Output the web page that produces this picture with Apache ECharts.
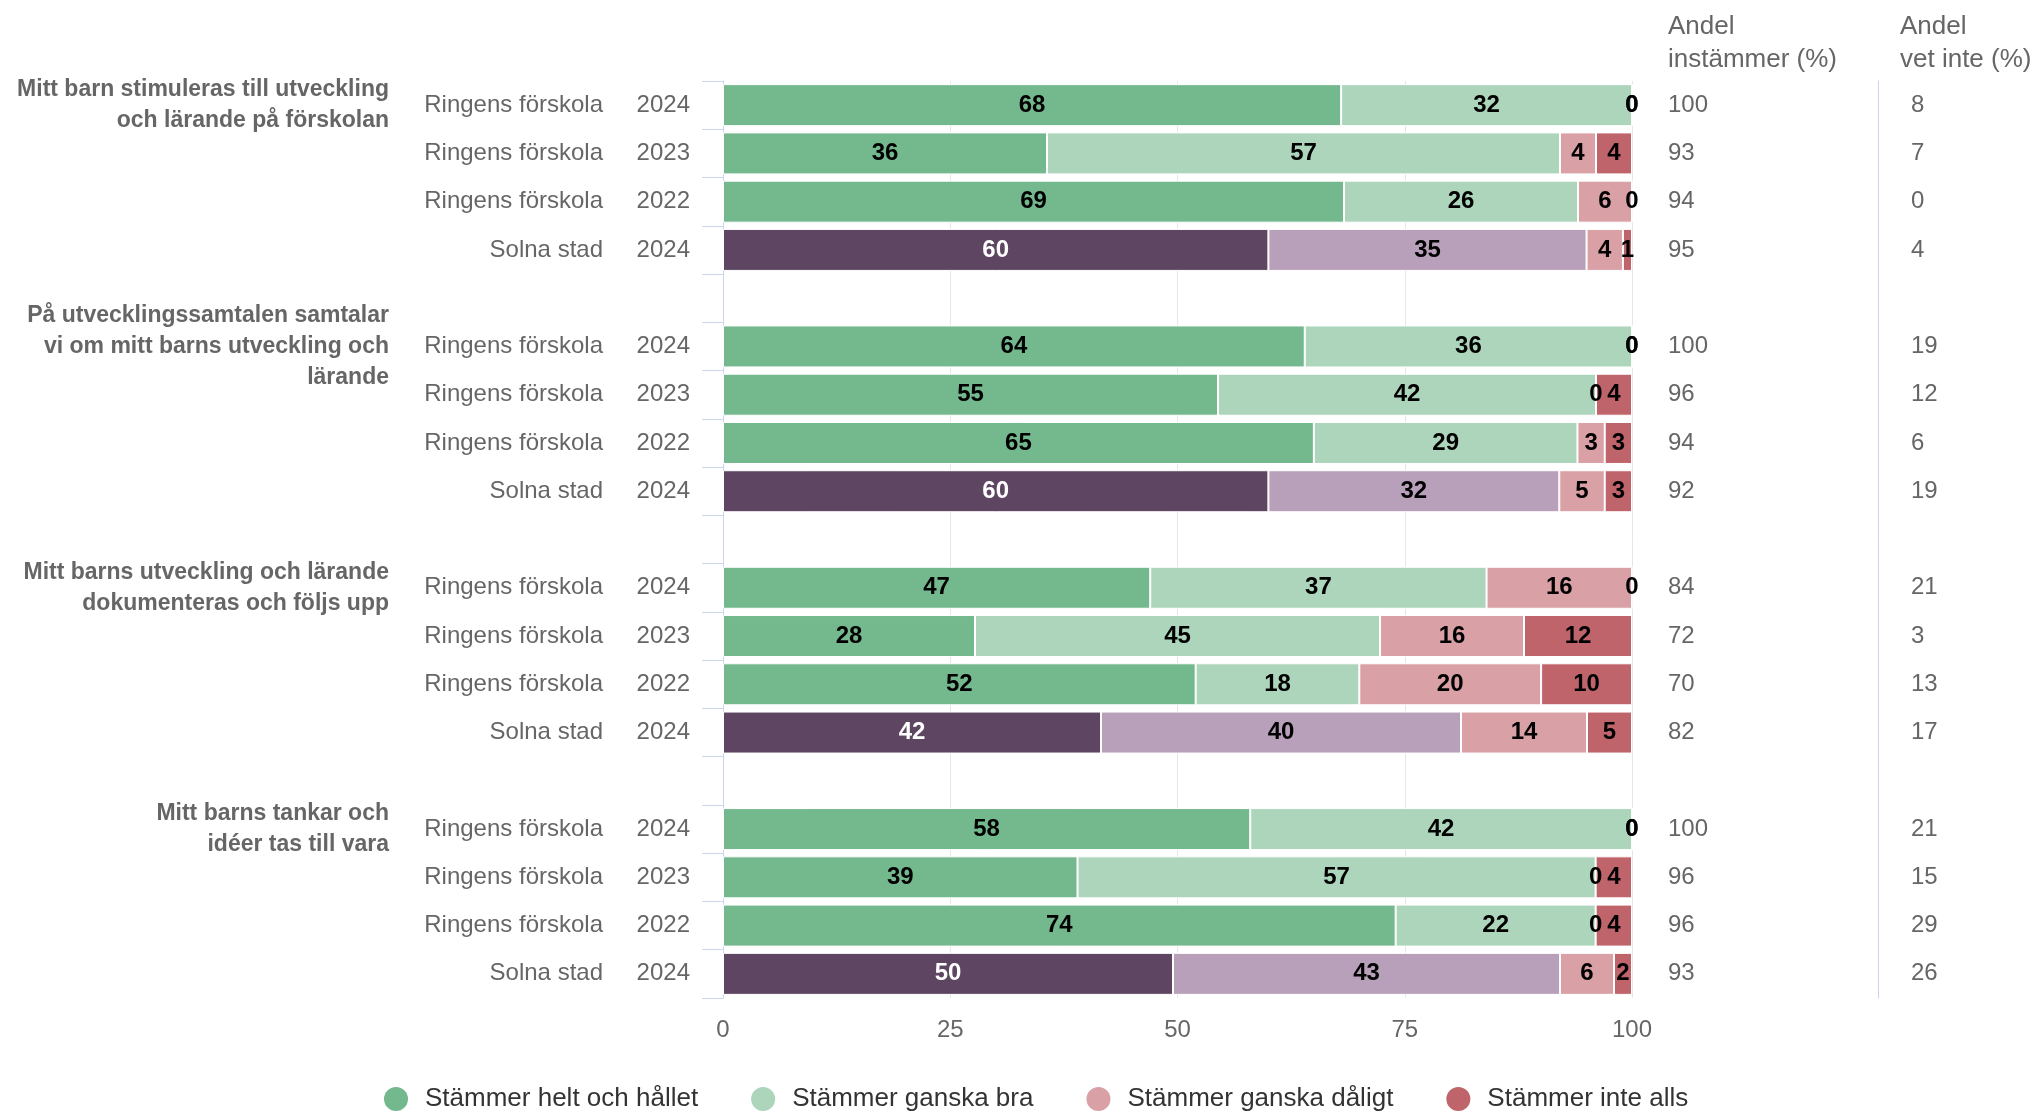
<!DOCTYPE html>
<html><head><meta charset="utf-8">
<script src="https://cdn.jsdelivr.net/npm/echarts@6/dist/echarts.min.js"></script>
<style>html,body{margin:0;padding:0;background:#fff}#c{width:2038px;height:1114px}</style>
</head><body><div id="c"></div>
<script>
const questions = [
  'Mitt barn stimuleras till utveckling\noch lärande på förskolan',
  'På utvecklingssamtalen samtalar\nvi om mitt barns utveckling och\nlärande',
  'Mitt barns utveckling och lärande\ndokumenteras och följs upp',
  'Mitt barns tankar och\nidéer tas till vara'
];
const units = ['Ringens förskola', 'Ringens förskola', 'Ringens förskola', 'Solna stad'];
const years = ['2024', '2023', '2022', '2024'];
const seriesNames = ['Stämmer helt och hållet', 'Stämmer ganska bra', 'Stämmer ganska dåligt', 'Stämmer inte alls'];
const heltOchHallet = [68, 36, 69, 60, 64, 55, 65, 60, 47, 28, 52, 42, 58, 39, 74, 50];
const ganskaBra     = [32, 57, 26, 35, 36, 42, 29, 32, 37, 45, 18, 40, 42, 57, 22, 43];
const ganskaDaligt  = [0, 4, 6, 4, 0, 0, 3, 5, 16, 16, 20, 14, 0, 0, 0, 6];
const inteAlls      = [0, 4, 0, 1, 0, 4, 3, 3, 0, 12, 10, 5, 0, 4, 4, 2];
const andelInstammer = [100, 93, 94, 95, 100, 96, 94, 92, 84, 72, 70, 82, 100, 96, 96, 93];
const andelVetInte   = [8, 7, 0, 4, 19, 12, 6, 19, 21, 3, 13, 17, 21, 15, 29, 26];

const FONT = '"Liberation Sans", Arial, Helvetica, sans-serif';
const colors = ['#74b88e', '#acd5bb', '#d9a0a6', '#c0646c'];
const solnaColors = ['#5e4662', '#b9a0ba', '#d9a0a6', '#c0646c'];
const seriesValues = [heltOchHallet, ganskaBra, ganskaDaligt, inteAlls];

// build rows (with blank spacer rows between question groups)
const rows = [];
questions.forEach((q, g) => {
  units.forEach((u, r) => {
    rows.push({ idx: g * 4 + r, unit: u, year: years[r], group: r === 0 ? q : '' });
  });
  if (g < questions.length - 1) rows.push(null);
});
const keys = rows.map((_, i) => 'row' + i);

const series = seriesNames.map((name, s) => ({
  type: 'bar',
  name: name,
  stack: 'total',
  barWidth: 42,
  itemStyle: { color: colors[s], borderColor: '#ffffff', borderWidth: 1 },
  label: {
    show: true, position: 'inside', fontSize: 24, fontWeight: 'bold',
    color: '#000', fontFamily: FONT,
    formatter: p => (p.data && p.data.raw !== undefined) ? String(p.data.raw) : ''
  },
  data: rows.map(row => {
    if (!row) return '-';
    const i = row.idx;
    const total = seriesValues.reduce((a, arr) => a + arr[i], 0);
    const v = seriesValues[s][i];
    const solna = row.unit === 'Solna stad';
    const item = { value: v / total * 100, raw: v };
    if (solna) {
      item.itemStyle = { color: solnaColors[s] };
      if (s === 0) item.label = { color: '#ffffff' };
    }
    return item;
  })
}));

const labelBase = { fontFamily: FONT, fontSize: 24, color: '#666666', interval: 0 };
const hidden = { axisLine: { show: false }, axisTick: { show: false } };
const headStyle = { fontFamily: FONT, fontSize: 26, fontWeight: 'normal', color: '#666666', lineHeight: 33 };

const option = {
  animation: false,
  backgroundColor: '#ffffff',
  title: [
    { text: 'Andel\ninstämmer (%)', left: 1668, top: 10, padding: 0, textStyle: headStyle },
    { text: 'Andel\nvet inte (%)', left: 1900, top: 10, padding: 0, textStyle: headStyle }
  ],
  legend: {
    data: seriesNames, left: 382, top: 1085, icon: 'circle', padding: 0,
    itemWidth: 26, itemHeight: 26, itemGap: 51,
    textStyle: { fontFamily: FONT, fontSize: 26, color: '#333333', padding: [0, 0, 0, 11] }
  },
  grid: { left: 723, right: 406, top: 81, bottom: 116 },
  xAxis: {
    type: 'value', min: 0, max: 100, interval: 25,
    axisLine: { show: false }, axisTick: { show: false },
    splitLine: { lineStyle: { color: '#e6e6e6', width: 1 } },
    axisLabel: { fontFamily: FONT, fontSize: 24, color: '#666666', margin: 20 }
  },
  yAxis: [
    { type: 'category', data: keys, inverse: true, position: 'left',
      axisLine: { show: true, lineStyle: { color: '#ccd6eb' } },
      axisTick: { show: true, length: 21, lineStyle: { color: '#ccd6eb' } },
      axisLabel: Object.assign({}, labelBase, { margin: 33, formatter: (v, i) => rows[i] ? rows[i].year : '' }) },
    Object.assign({ type: 'category', data: keys, inverse: true, position: 'left',
      axisLabel: Object.assign({}, labelBase, { margin: 120, formatter: (v, i) => rows[i] ? rows[i].unit : '' }) }, hidden),
    Object.assign({ type: 'category', data: keys, inverse: true, position: 'left',
      axisLabel: Object.assign({}, labelBase, { margin: 334, fontWeight: 'bold', fontSize: 23, lineHeight: 31, align: 'right',
        formatter: (v, i) => rows[i] ? rows[i].group : '' }) }, hidden),
    Object.assign({ type: 'category', data: keys, inverse: true, position: 'right',
      axisLabel: Object.assign({}, labelBase, { margin: 36, formatter: (v, i) => rows[i] ? String(andelInstammer[rows[i].idx]) : '' }) }, hidden),
    { type: 'category', data: keys, inverse: true, position: 'right', offset: 246,
      axisLine: { show: true, lineStyle: { color: '#ccd6eb' } }, axisTick: { show: false },
      axisLabel: Object.assign({}, labelBase, { margin: 33, formatter: (v, i) => rows[i] ? String(andelVetInte[rows[i].idx]) : '' }) }
  ],
  series: series
};

const chart = echarts.init(document.getElementById('c'), null, { renderer: 'canvas' });
chart.setOption(option);
</script>
</body></html>
